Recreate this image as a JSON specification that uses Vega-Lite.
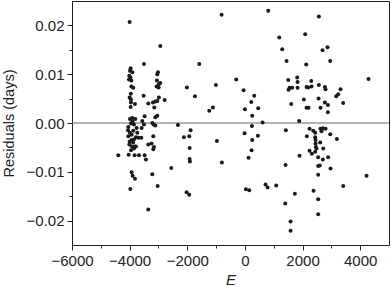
{
  "$schema": "https://vega.github.io/schema/vega-lite/v6.json",
  "autosize": "none",
  "width": 317,
  "height": 244,
  "padding": {"left": 72, "top": 1, "right": 2, "bottom": 44},
  "background": "white",
  "config": {
    "view": {"stroke": "#222", "strokeWidth": 1},
    "font": "Liberation Sans",
    "axis": {"grid": false, "domainColor": "#222", "tickColor": "#222", "labelColor": "#222", "titleColor": "#222", "labelFont": "Liberation Sans", "titleFont": "Liberation Sans", "labelFontSize": 15, "titleFontSize": 14.5, "titleFontWeight": "normal", "labelOverlap": false, "labelFlush": false}
  },
  "data": {"values": [
    {"E": -4000, "R": 0.0207}, {"E": -2936, "R": 0.0158}, {"E": -809, "R": 0.0222}, {"E": 809, "R": 0.0230},
    {"E": 1191, "R": 0.0175}, {"E": 2092, "R": 0.0182}, {"E": 2566, "R": 0.0218}, {"E": 1295, "R": 0.0151},
    {"E": 2867, "R": 0.0155}, {"E": 2694, "R": 0.0149}, {"E": 1445, "R": 0.0127}, {"E": 2127, "R": 0.0120},
    {"E": 2960, "R": 0.0127}, {"E": -3503, "R": 0.0121}, {"E": -1584, "R": 0.0121}, {"E": 4289, "R": 0.0090},
    {"E": -301, "R": 0.0089}, {"E": -1006, "R": 0.0078}, {"E": -2012, "R": 0.0073}, {"E": -1734, "R": 0.0055},
    {"E": -1237, "R": 0.0025}, {"E": -1110, "R": 0.0032}, {"E": -46, "R": 0.0067}, {"E": 324, "R": 0.0056},
    {"E": 220, "R": 0.0043}, {"E": 462, "R": 0.0030}, {"E": 0, "R": 0.0028}, {"E": 254, "R": 0.0015},
    {"E": 613, "R": 0.0001}, {"E": 243, "R": -0.0006}, {"E": -12, "R": -0.0021}, {"E": 451, "R": -0.0026},
    {"E": 254, "R": -0.0035}, {"E": 231, "R": -0.0056}, {"E": 127, "R": -0.0071}, {"E": 35, "R": -0.0136},
    {"E": 150, "R": -0.0138}, {"E": 717, "R": -0.0126}, {"E": 786, "R": -0.0132}, {"E": 1087, "R": -0.0128},
    {"E": 1734, "R": -0.0145}, {"E": 1399, "R": -0.0165}, {"E": 1584, "R": -0.0202}, {"E": 1584, "R": -0.0221},
    {"E": 1410, "R": -0.0086}, {"E": 1422, "R": -0.0015}, {"E": 1896, "R": -0.0067},
    {"E": 1503, "R": 0.0088}, {"E": 1549, "R": 0.0072}, {"E": 1514, "R": 0.0068}, {"E": 1642, "R": 0.0072},
    {"E": 1815, "R": 0.0093}, {"E": 1827, "R": 0.0084}, {"E": 1827, "R": 0.0072}, {"E": 1607, "R": 0.0039},
    {"E": 2046, "R": 0.0048}, {"E": 2139, "R": 0.0074}, {"E": 2197, "R": 0.0073}, {"E": 2312, "R": 0.0075},
    {"E": 2301, "R": 0.0086}, {"E": 2139, "R": 0.0031}, {"E": 2208, "R": 0.0031}, {"E": 1884, "R": 0.0004},
    {"E": 2566, "R": 0.0078}, {"E": 2555, "R": 0.0050}, {"E": 2624, "R": 0.0031}, {"E": 2775, "R": 0.0074},
    {"E": 2798, "R": 0.0069}, {"E": 2775, "R": 0.0042}, {"E": 2879, "R": 0.0037}, {"E": 2879, "R": 0.0022},
    {"E": 3168, "R": 0.0055}, {"E": 3237, "R": 0.0059}, {"E": 3318, "R": 0.0069}, {"E": 3410, "R": 0.0041},
    {"E": 2150, "R": -0.0027}, {"E": 2243, "R": -0.0012}, {"E": 2370, "R": -0.0016}, {"E": 2439, "R": -0.0020},
    {"E": 2439, "R": -0.0029}, {"E": 2451, "R": -0.0035}, {"E": 2451, "R": -0.0042}, {"E": 2462, "R": -0.0049},
    {"E": 2439, "R": -0.0059}, {"E": 2243, "R": -0.0057}, {"E": 2324, "R": -0.0063}, {"E": 2486, "R": -0.0052},
    {"E": 2543, "R": -0.0070}, {"E": 2624, "R": -0.0012}, {"E": 2659, "R": -0.0017}, {"E": 2705, "R": -0.0011},
    {"E": 2798, "R": -0.0012}, {"E": 2613, "R": -0.0040}, {"E": 2717, "R": -0.0052}, {"E": 2601, "R": -0.0087},
    {"E": 2543, "R": -0.0088}, {"E": 2890, "R": -0.0070}, {"E": 2705, "R": -0.0075}, {"E": 2960, "R": -0.0023},
    {"E": 3191, "R": -0.0033}, {"E": 2971, "R": -0.0093}, {"E": 2543, "R": -0.0106}, {"E": 2382, "R": -0.0139},
    {"E": 2543, "R": -0.0156}, {"E": 2543, "R": -0.0187}, {"E": 3410, "R": -0.0129}, {"E": 4220, "R": -0.0108},
    {"E": -2324, "R": -0.0004}, {"E": -2555, "R": -0.0092}, {"E": -2116, "R": -0.0029}, {"E": -1931, "R": -0.0027},
    {"E": -1884, "R": -0.0015}, {"E": -1919, "R": -0.0051}, {"E": -1919, "R": -0.0074}, {"E": -1908, "R": -0.0079},
    {"E": -2023, "R": -0.0142}, {"E": -1931, "R": -0.0147}, {"E": -971, "R": -0.0037}, {"E": -798, "R": -0.0081},
    {"E": -4393, "R": -0.0066}, {"E": -4012, "R": 0.0097}, {"E": -3988, "R": 0.0107}, {"E": -3965, "R": 0.0112},
    {"E": -3908, "R": 0.0104}, {"E": -3942, "R": 0.0087}, {"E": -4023, "R": 0.0089}, {"E": -3942, "R": 0.0075},
    {"E": -3873, "R": 0.0072}, {"E": -4000, "R": 0.0052}, {"E": -3954, "R": 0.0048}, {"E": -3954, "R": 0.0042},
    {"E": -3965, "R": 0.0033}, {"E": -3815, "R": 0.0039}, {"E": -3514, "R": 0.0056}, {"E": -3353, "R": 0.0040},
    {"E": -3191, "R": 0.0042}, {"E": -3110, "R": 0.0044}, {"E": -3040, "R": 0.0045}, {"E": -2983, "R": 0.0052},
    {"E": -2786, "R": 0.0047}, {"E": -3145, "R": 0.0032}, {"E": -3052, "R": 0.0087}, {"E": -3017, "R": 0.0104},
    {"E": -3040, "R": 0.0100}, {"E": -2983, "R": 0.0080}, {"E": -2936, "R": 0.0082}, {"E": -2994, "R": 0.0073},
    {"E": -3064, "R": 0.0075}, {"E": -3040, "R": 0.0015}, {"E": -3110, "R": 0.0012}, {"E": -3214, "R": 0.0000},
    {"E": -3168, "R": -0.0003}, {"E": -3110, "R": -0.0005}, {"E": -3480, "R": 0.0014}, {"E": -3561, "R": 0.0004},
    {"E": -3503, "R": -0.0003}, {"E": -3584, "R": -0.0010}, {"E": -3179, "R": -0.0027}, {"E": -3237, "R": -0.0042},
    {"E": -3156, "R": -0.0049}, {"E": -3179, "R": -0.0054}, {"E": -3353, "R": -0.0044}, {"E": -3595, "R": -0.0030},
    {"E": -3480, "R": -0.0066}, {"E": -3434, "R": -0.0075}, {"E": -3676, "R": -0.0066}, {"E": -3827, "R": -0.0066},
    {"E": -4035, "R": -0.0065}, {"E": -3954, "R": -0.0056}, {"E": -3850, "R": -0.0052}, {"E": -3815, "R": -0.0048},
    {"E": -4012, "R": -0.0044}, {"E": -3931, "R": -0.0035}, {"E": -4046, "R": -0.0027}, {"E": -4058, "R": -0.0015},
    {"E": -4046, "R": -0.0008}, {"E": -3988, "R": 0.0008}, {"E": -3908, "R": 0.0010}, {"E": -3803, "R": 0.0008},
    {"E": -3954, "R": -0.0001}, {"E": -3850, "R": -0.0003}, {"E": -3757, "R": -0.0010}, {"E": -3873, "R": -0.0016},
    {"E": -3734, "R": -0.0020}, {"E": -3780, "R": -0.0029}, {"E": -3931, "R": -0.0024}, {"E": -3850, "R": -0.0034},
    {"E": -3919, "R": -0.0048}, {"E": -3780, "R": -0.0048}, {"E": -3699, "R": -0.0030}, {"E": -3931, "R": -0.0101},
    {"E": -3896, "R": -0.0108}, {"E": -3815, "R": -0.0114}, {"E": -3977, "R": -0.0135}, {"E": -3214, "R": -0.0105},
    {"E": -3029, "R": -0.0129}, {"E": -3353, "R": -0.0177}, {"E": -4000, "R": -0.0038}, {"E": -3900, "R": 0.0003},
    {"E": -3990, "R": -0.0020}, {"E": -3880, "R": -0.0040}, {"E": -3960, "R": 0.0060}, {"E": -3970, "R": 0.0093}
  ]},
  "resolve": {"axis": {"x": "independent", "y": "independent"}},
  "layer": [
    {
      "mark": {"type": "rule", "color": "#666", "strokeWidth": 1},
      "data": {"values": [{"R": 0}]},
      "encoding": {"y": {"field": "R", "type": "quantitative", "scale": {"domain": [-0.025, 0.025], "nice": false}, "axis": null}}
    },
    {
      "mark": {"type": "circle", "color": "#1a1a1a", "opacity": 1, "size": 16},
      "encoding": {
        "x": {"field": "E", "type": "quantitative", "title": "E",
          "scale": {"domain": [-6000, 5000], "nice": false, "zero": false},
          "axis": {"orient": "bottom", "values": [-6000, -4000, -2000, 0, 2000, 4000], "format": "d", "tickSize": 5, "labelPadding": 3, "titleFontStyle": "italic", "titleFontSize": 15, "titlePadding": 4}},
        "y": {"field": "R", "type": "quantitative", "title": "Residuals (days)",
          "scale": {"domain": [-0.025, 0.025], "nice": false, "zero": false},
          "axis": {"orient": "left", "values": [-0.02, -0.01, 0, 0.01, 0.02], "format": ".2f", "tickSize": 5, "labelPadding": 3, "titlePadding": 10}}
      }
    },
    {
      "mark": {"type": "circle", "opacity": 0},
      "encoding": {
        "x": {"field": "E", "type": "quantitative",
          "scale": {"domain": [-6000, 5000], "nice": false, "zero": false},
          "axis": {"orient": "bottom", "values": [-5000, -3000, -1000, 1000, 3000], "labels": false, "title": null, "tickSize": 3, "domain": false}},
        "y": {"field": "R", "type": "quantitative",
          "scale": {"domain": [-0.025, 0.025], "nice": false, "zero": false},
          "axis": {"orient": "left", "values": [-0.015, -0.005, 0.005, 0.015], "labels": false, "title": null, "tickSize": 3, "domain": false}}
      }
    }
  ]
}
